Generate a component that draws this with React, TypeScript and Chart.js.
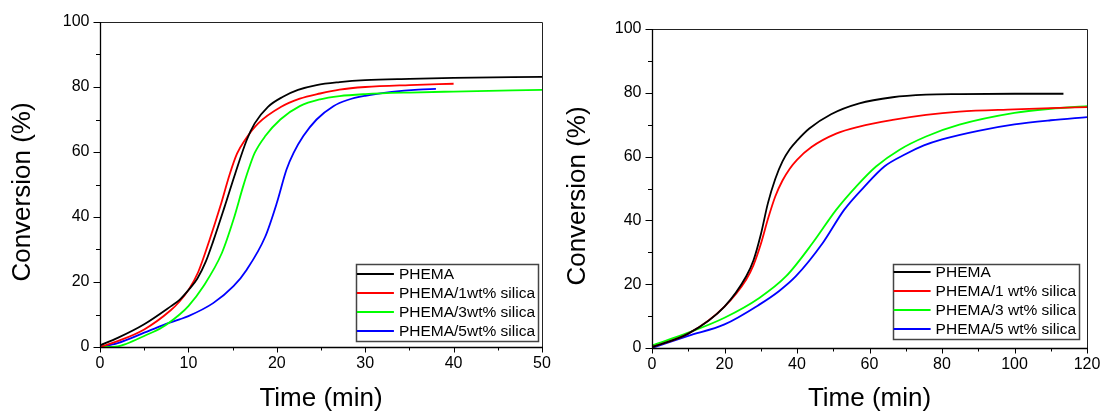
import React, { useEffect, useRef } from "react";
import { Chart, registerables } from "chart.js";

Chart.register(...registerables);

// ---------- Left panel data (Time 0-50 min) ----------
const leftPhemaT = [0, 2, 5, 8, 9, 10, 11, 12, 12.8, 14.1, 15.3, 16.6, 17.5, 19, 20.7, 22.4, 24.5, 27.1, 30, 35, 40, 50];
const leftPhemaY = [0.5, 2.8, 7, 12.5, 14.5, 17.5, 21, 26.5, 32.5, 43.2, 53.4, 63.7, 68.8, 73.9, 77, 79.1, 80.6, 81.5, 82.1, 82.5, 82.8, 83.1];

const left1T = [0, 2, 5, 8, 9, 10, 11.1, 12.4, 13.6, 14.7, 15.5, 16.4, 17.9, 20.5, 22.6, 24.9, 27.1, 30, 35, 40];
const left1Y = [0, 1.8, 5.4, 11.3, 14, 17.5, 23, 33, 43.2, 53.4, 59.5, 63.7, 68.8, 73.9, 76.4, 78, 79.2, 80, 80.6, 81];

const left3T = [0, 2, 3, 5, 7, 9, 10, 11.7, 13.8, 15.1, 16.2, 16.8, 17.5, 18.7, 20.4, 22.6, 24.9, 27.1, 30, 35, 40, 50];
const left3Y = [0, 0.2, 1, 3.4, 6, 10, 12.6, 18.7, 29, 39.2, 49.5, 54.6, 59.7, 64.9, 70, 74.1, 76.2, 77.2, 77.8, 78.3, 78.6, 79.1];

const left5T = [0, 2, 5, 7, 9, 10, 12.8, 15.1, 16.6, 18.7, 20, 21.1, 21.9, 23, 24.5, 26.4, 28, 30, 33, 36, 38];
const left5Y = [0, 1.2, 4.4, 6.6, 8.5, 9.5, 13.5, 18.7, 23.8, 34, 44.3, 54.6, 59.7, 64.9, 70, 74.1, 76, 77.3, 78.5, 79.2, 79.4];

// ---------- Right panel data (Time 0-120 min) ----------
const rightPhemaT = [0, 10, 20, 26, 28, 30, 32, 34, 36, 38, 40, 43.4, 49.4, 57.2, 66.4, 75.6, 84.8, 100, 113.5];
const rightPhemaY = [0.3, 4.5, 13, 22.5, 27.5, 35.5, 45.5, 53, 58.5, 62.3, 65, 68.8, 73.3, 76.7, 78.6, 79.4, 79.6, 79.7, 79.7];

const right1T = [0, 10, 20, 26, 28, 30, 32, 34, 36, 38, 40, 44, 50.8, 57.2, 66.4, 75.6, 84.8, 100, 110, 120];
const right1Y = [0.3, 4.5, 13, 21.5, 26, 32.5, 40.5, 47.5, 52.5, 56.2, 59, 63, 67.2, 69.4, 71.5, 73.1, 74.1, 74.8, 75.2, 75.5];

const right3T = [0, 10, 20, 29.6, 37, 44.3, 50.8, 56.3, 61.8, 68.2, 75.6, 84.8, 100, 110, 120];
const right3Y = [0.8, 4.8, 9.5, 15.7, 22.5, 32.9, 43.3, 50.6, 56.9, 62.1, 66.3, 70, 73.7, 75, 75.8];

const right5T = [0, 10, 20, 29.6, 35, 39.7, 47.1, 53, 58.6, 64.1, 70, 75, 80, 90, 100, 110, 120];
const right5Y = [0, 3.8, 7.4, 13.6, 17.8, 22.5, 32.9, 43.3, 50.6, 56.9, 60.8, 63.5, 65.4, 68.1, 70.1, 71.4, 72.4];

const leftLabels = ["PHEMA", "PHEMA/1wt% silica", "PHEMA/3wt% silica", "PHEMA/5wt% silica"];
const rightLabels = ["PHEMA", "PHEMA/1 wt% silica", "PHEMA/3 wt% silica", "PHEMA/5 wt% silica"];
const seriesColors = ["#000000", "#ff0000", "#00ff00", "#0000ff"];

const xTitle = "Time (min)";
const yTitle = "Conversion (%)";

const FONT = "'Liberation Sans', Arial, sans-serif";

function pts(t: number[], y: number[]) {
  return t.map((v, i) => ({ x: v, y: y[i] }));
}

const frameTicks = {
  id: "frameTicks",
  afterDatasetsDraw(chart: any, _args: any, opts: any) {
    const { ctx, chartArea } = chart;
    const { left, right, top, bottom } = chartArea;
    const xs = chart.scales.x;
    const ys = chart.scales.y;
    ctx.save();
    ctx.strokeStyle = "#222";
    ctx.lineWidth = 1;
    ctx.beginPath();
    ctx.moveTo(left, top + 0.5);
    ctx.lineTo(right + 0.5, top + 0.5);
    ctx.lineTo(right + 0.5, bottom);
    ctx.stroke();
    ctx.strokeStyle = "#000";
    ctx.lineWidth = 1.3;
    ctx.beginPath();
    ctx.moveTo(left + 0.5, top);
    ctx.lineTo(left + 0.5, bottom + 0.5);
    ctx.lineTo(right + 1, bottom + 0.5);
    ctx.stroke();
    ctx.lineWidth = 1;
    ctx.beginPath();
    for (let v = xs.min; v <= xs.max + 1e-9; v += opts.xMinor) {
      const px = Math.round(xs.getPixelForValue(v)) + 0.5;
      const isMajor = Math.abs(v / opts.xMajor - Math.round(v / opts.xMajor)) < 1e-6;
      const len = isMajor ? 5 : 3;
      ctx.moveTo(px, bottom);
      ctx.lineTo(px, bottom + len + 0.5);
    }
    for (let v = ys.min; v <= ys.max + 1e-9; v += opts.yMinor) {
      const py = Math.round(ys.getPixelForValue(v)) + 0.5;
      const isMajor = Math.abs(v / opts.yMajor - Math.round(v / opts.yMajor)) < 1e-6;
      const len = isMajor ? 6.5 : 4;
      ctx.moveTo(left, py);
      ctx.lineTo(left - len, py);
    }
    ctx.stroke();
    // y-axis title
    ctx.save();
    ctx.translate(opts.yTitleX, opts.yTitleY);
    ctx.rotate(-Math.PI / 2);
    ctx.fillStyle = "#000";
    ctx.font = `26px ${FONT}`;
    ctx.textAlign = "center";
    ctx.textBaseline = "middle";
    ctx.fillText(opts.yTitle, 0, 0);
    ctx.restore();
    ctx.restore();
  },
};

const boxLegend = {
  id: "boxLegend",
  afterDatasetsDraw(chart: any, _args: any, opts: any) {
    const { ctx, chartArea } = chart;
    const dsets = chart.data.datasets;
    ctx.save();
    ctx.font = `15.5px ${FONT}`;
    let maxW = 0;
    dsets.forEach((d: any) => {
      maxW = Math.max(maxW, ctx.measureText(d.label).width);
    });
    const lineLen = 37;
    const gap = 5;
    const padL = 1;
    const padR = 3;
    const rowH = 19;
    const padT = opts.padT;
    const padB = 10;
    const w = padL + lineLen + gap + maxW + padR;
    const h = padT + rowH * (dsets.length - 1) + padB;
    const bx = chartArea.right - opts.rightOff - w;
    const by = chartArea.bottom - opts.bottomOff - h;
    ctx.fillStyle = "#fff";
    ctx.fillRect(bx, by, w, h);
    ctx.strokeStyle = "#444";
    ctx.lineWidth = 1.5;
    ctx.strokeRect(Math.round(bx) + 0.5, Math.round(by) + 0.5, Math.round(w), Math.round(h));
    ctx.textBaseline = "middle";
    ctx.textAlign = "left";
    dsets.forEach((d: any, i: number) => {
      const cy = by + padT + i * rowH;
      ctx.strokeStyle = d.borderColor;
      ctx.lineWidth = 1.8;
      ctx.beginPath();
      ctx.moveTo(bx + padL, cy);
      ctx.lineTo(bx + padL + lineLen, cy);
      ctx.stroke();
      ctx.fillStyle = "#000";
      ctx.fillText(d.label, bx + padL + lineLen + gap, cy + 1);
    });
    ctx.restore();
  },
};

type PanelProps = {
  series: { t: number[]; y: number[] }[];
  labels: string[];
  xMax: number;
  xMajor: number;
  xMinor: number;
  plotLeft: number;
  plotRight: number;
  plotTop: number;
  plotBottom: number;
  yTitleX: number;
  yTitleY: number;
  legendRightOff: number;
  legendBottomOff: number;
  legendPadT: number;
  left: number;
};

const W = 551;
const H = 412;

function Panel(p: PanelProps) {
  const ref = useRef<HTMLCanvasElement>(null);
  useEffect(() => {
    if (!ref.current) return;
    const chart = new Chart(ref.current, {
      type: "line",
      data: {
        datasets: p.series.map((s, i) => ({
          label: p.labels[i],
          data: pts(s.t, s.y),
          borderColor: seriesColors[i],
          backgroundColor: seriesColors[i],
          borderWidth: 1.8,
          pointRadius: 0,
          fill: false,
          cubicInterpolationMode: "monotone" as const,
        })),
      },
      options: {
        responsive: false,
        animation: false,
        devicePixelRatio: 1,
        layout: {
          padding: { left: 0, top: p.plotTop, right: W - p.plotRight, bottom: 0 },
        },
        plugins: {
          legend: { display: false },
          tooltip: { enabled: false },
          frameTicks: {
            xMajor: p.xMajor,
            xMinor: p.xMinor,
            yMajor: 20,
            yMinor: 10,
            yTitle: yTitle,
            yTitleX: p.yTitleX,
            yTitleY: p.yTitleY,
          },
          boxLegend: { rightOff: p.legendRightOff, bottomOff: p.legendBottomOff, padT: p.legendPadT },
        } as any,
        scales: {
          x: {
            type: "linear",
            min: 0,
            max: p.xMax,
            grid: { display: false, drawTicks: false, tickLength: 0 },
            border: { display: false },
            ticks: {
              stepSize: p.xMajor,
              padding: 7,
              color: "#000",
              font: { family: FONT, size: 16 },
              maxRotation: 0,
            },
            title: {
              display: true,
              text: xTitle,
              color: "#000",
              font: { family: FONT, size: 26, lineHeight: 1.0 },
              padding: { top: 0, bottom: 0 },
            },
            afterFit: (s: any) => {
              s.height = H - p.plotBottom;
              s.paddingLeft = 0;
              s.paddingRight = 0;
            },
          },
          y: {
            type: "linear",
            min: 0,
            max: 100,
            grid: { display: false, drawTicks: false, tickLength: 0 },
            border: { display: false },
            ticks: {
              stepSize: 20,
              padding: 10.5,
              color: "#000",
              font: { family: FONT, size: 16 },
            },
            title: { display: false },
            afterFit: (s: any) => {
              s.width = p.plotLeft;
              s.paddingTop = 0;
              s.paddingBottom = 0;
            },
          },
        },
      },
      plugins: [frameTicks, boxLegend],
    });
    return () => chart.destroy();
  }, []);
  return (
    <canvas
      ref={ref}
      width={W}
      height={H}
      style={{ position: "absolute", left: p.left, top: 0, width: W, height: H }}
    />
  );
}

export default function App() {
  return (
    <div style={{ position: "absolute", left: 0, top: 0, width: 1102, height: 412, background: "#fff" }}>
      <Panel
        series={[
          { t: leftPhemaT, y: leftPhemaY },
          { t: left1T, y: left1Y },
          { t: left3T, y: left3Y },
          { t: left5T, y: left5Y },
        ]}
        labels={leftLabels}
        xMax={50}
        xMajor={10}
        xMinor={5}
        plotLeft={100}
        plotRight={542}
        plotTop={22}
        plotBottom={347}
        yTitleX={23}
        yTitleY={192}
        legendRightOff={4}
        legendBottomOff={6}
        legendPadT={10}
        left={0}
      />
      <Panel
        series={[
          { t: rightPhemaT, y: rightPhemaY },
          { t: right1T, y: right1Y },
          { t: right3T, y: right3Y },
          { t: right5T, y: right5Y },
        ]}
        labels={rightLabels}
        xMax={120}
        xMajor={20}
        xMinor={10}
        plotLeft={101}
        plotRight={536}
        plotTop={29}
        plotBottom={348}
        yTitleX={26.5}
        yTitleY={196}
        legendRightOff={8}
        legendBottomOff={9}
        legendPadT={8}
        left={551}
      />
    </div>
  );
}
